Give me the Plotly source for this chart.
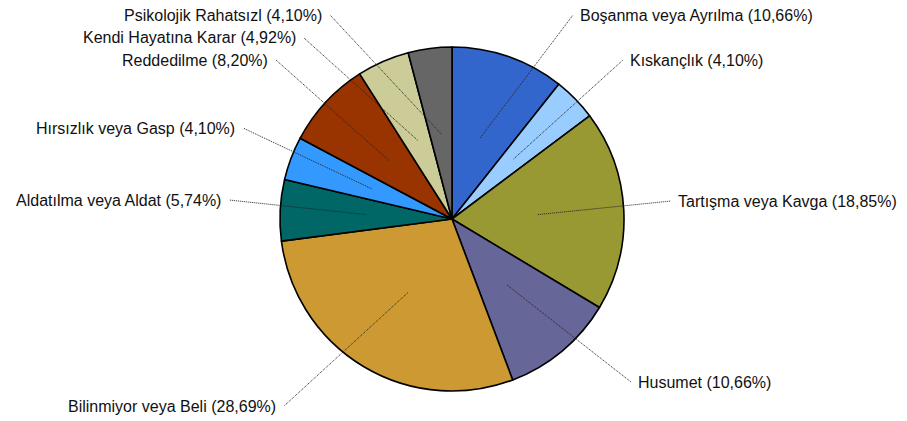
import math
import plotly.graph_objects as go

# ---- data ----
categories = [
    "Boşanma veya Ayrılma", "Kıskançlık", "Tartışma veya Kavga", "Husumet",
    "Bilinmiyor veya Beli", "Aldatılma veya Aldat", "Hırsızlık veya Gasp",
    "Reddedilme", "Kendi Hayatına Karar", "Psikolojik Rahatsızl",
]
values = [10.66, 4.10, 18.85, 10.66, 28.69, 5.74, 4.10, 8.20, 4.92, 4.10]
colors = ["#3366CC", "#99CCFF", "#999933", "#666699", "#CC9933",
          "#006666", "#3399FF", "#993300", "#CCCC99", "#666666"]

# ---- layout (pixel geometry of the page) ----
W, H = 907, 421
CX, CY, R = 452, 219, 172
# label anchor (x, y, side) in page pixels
label_pos = [
    (578, 15, "left"), (628, 60, "left"), (676, 201, "left"), (636, 382, "left"),
    (278, 406, "right"), (223, 200, "right"), (237, 128, "right"),
    (270, 60, "right"), (298, 38, "right"), (324, 15, "right"),
]

def px(x):
    return x / W

def py(y):
    return 1 - y / H

fig = go.Figure(go.Pie(
    labels=categories, values=values, sort=False, direction="clockwise",
    rotation=0, marker=dict(colors=colors, line=dict(color="black", width=1.6)),
    textinfo="none", hoverinfo="label+percent", showlegend=False,
    domain=dict(x=[px(CX - R), px(CX + R)], y=[py(CY + R), py(CY - R)]),
))

total = sum(values)
cum = 0.0
shapes, annotations = [], []
for name, v, (lx, ly, side) in zip(categories, values, label_pos):
    mid = (cum + v / 2) / total * 2 * math.pi
    cum += v
    ix = CX + 0.5 * R * math.sin(mid)
    iy = CY - 0.5 * R * math.cos(mid)
    ex = lx - 5 if side == "left" else lx + 6
    shapes.append(dict(type="line", xref="paper", yref="paper",
                       x0=px(ix), y0=py(iy), x1=px(ex), y1=py(ly),
                       line=dict(color="#222222", width=1, dash="1px,1px")))
    txt = f"{name} ({v:.2f}%)".replace(".", ",")
    annotations.append(dict(text=txt, x=px(lx), y=py(ly), xref="paper", yref="paper",
                            xanchor=side, yanchor="middle", showarrow=False,
                            font=dict(family="Liberation Sans, Arial", size=16, color="#111111")))

fig.update_layout(width=W, height=H, margin=dict(l=0, r=0, t=0, b=0),
                  paper_bgcolor="white", plot_bgcolor="white",
                  shapes=shapes, annotations=annotations)
fig.write_html("out.html", config={"displayModeBar": False},
               post_script="document.body.style.margin='0px';document.body.style.overflow='hidden';")
